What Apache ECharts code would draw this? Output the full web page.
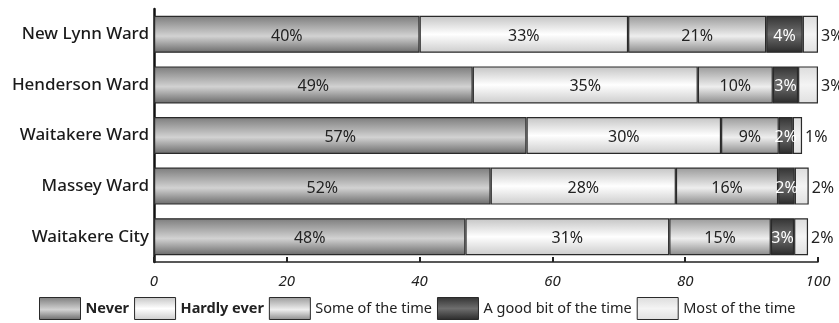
<!DOCTYPE html>
<html>
<head>
<meta charset="utf-8">
<script src="https://cdn.jsdelivr.net/npm/echarts@6/dist/echarts.min.js"></script>
<style>
  html, body { margin: 0; padding: 0; background: #fff; }
  #chart { width: 839px; height: 323px; }
</style>
</head>
<body>
<div id="chart"></div>
<script>
// categories, top to bottom
const wards = ['New Lynn Ward', 'Henderson Ward', 'Waitakere Ward', 'Massey Ward', 'Waitakere City'];
const answers = ['Never', 'Hardly ever', 'Some of the time', 'A good bit of the time', 'Most of the time'];

// segment widths as drawn
const never      = [40.0, 48.0, 56.1, 50.7, 46.9];
const hardlyEver = [31.4, 33.9, 29.3, 27.9, 30.7];
const someTime   = [20.8, 11.3, 8.7, 15.4, 15.3];
const goodBit    = [5.5, 3.8, 2.1, 2.5, 3.5];
const mostTime   = [2.3, 3.0, 1.4, 2.1, 2.1];

// printed labels
const neverLbl  = ['40%', '49%', '57%', '52%', '48%'];
const hardlyLbl = ['33%', '35%', '30%', '28%', '31%'];
const someLbl   = ['21%', '10%', '9%', '16%', '15%'];
const goodLbl   = ['4%', '3%', '2%', '2%', '3%'];
const mostLbl   = ['3%', '3%', '1%', '2%', '2%'];

const xTicks = [0, 20, 40, 60, 80, 100];

const FONT = 'Noto Sans';

function grad(stops) {
  return {
    type: 'linear', x: 0, y: 0, x2: 0, y2: 1,
    colorStops: stops.map(s => ({ offset: s[0], color: s[1] }))
  };
}

const fills = [
  grad([[0, '#7c7c7c'], [0.55, '#d2d2d2'], [1, '#6a6a6a']]),
  grad([[0, '#c4c4c4'], [0.5, '#ffffff'], [1, '#cccccc']]),
  grad([[0, '#9a9a9a'], [0.55, '#eeeeee'], [1, '#8a8a8a']]),
  grad([[0, '#333333'], [0.5, '#6e6e6e'], [1, '#2a2a2a']]),
  grad([[0, '#dcdcdc'], [0.5, '#f4f4f4'], [1, '#e0e0e0']])
];

const valueSets = [never, hardlyEver, someTime, goodBit, mostTime];
const labelSets = [neverLbl, hardlyLbl, someLbl, goodLbl, mostLbl];

const series = answers.map((name, i) => ({
  name,
  type: 'bar',
  stack: 'all',
  barWidth: 37,
  data: valueSets[i],
  itemStyle: { color: fills[i], borderColor: '#2a2a2a', borderWidth: 1.2 },
  label: {
    show: true,
    position: i === 4 ? 'right' : 'inside',
    distance: 3,
    offset: [0, 2],
    fontFamily: FONT,
    fontSize: 16,
    color: i === 3 ? '#ffffff' : '#222',
    formatter: p => labelSets[i][p.dataIndex]
  },
  emphasis: { disabled: true }
}));

const chart = echarts.init(document.getElementById('chart'));
chart.setOption({
  animation: false,
  grid: { left: 154, right: 21, top: 9, bottom: 61 },
  xAxis: {
    type: 'value',
    min: 0,
    max: 100,
    interval: 20,
    axisLine: { show: true, lineStyle: { color: '#222', width: 1.5 } },
    axisTick: { show: true, inside: true, length: 5, lineStyle: { color: '#222', width: 2 } },
    splitLine: { show: false },
    axisLabel: {
      margin: 12,
      fontFamily: FONT,
      fontSize: 15,
      fontStyle: 'italic',
      color: '#222',
      formatter: v => xTicks.includes(v) ? String(v) : ''
    }
  },
  yAxis: {
    type: 'category',
    data: wards,
    inverse: true,
    axisLine: { show: true, lineStyle: { color: '#111', width: 2.5 } },
    axisTick: { show: false },
    axisLabel: { margin: 5, fontFamily: FONT, fontSize: 17, fontWeight: 500, color: '#1a1a1a' }
  },
  legend: {
    bottom: -2,
    left: 34,
    icon: 'rect',
    itemWidth: 41,
    itemHeight: 22,
    itemGap: 5,
    data: answers,
    itemStyle: { borderColor: '#2a2a2a', borderWidth: 1 },
    textStyle: {
      fontFamily: FONT,
      fontSize: 14.5,
      color: '#222',
      rich: { b: { fontWeight: 'bold', fontFamily: FONT, fontSize: 14.5, color: '#222' } }
    },
    formatter: n => (n === 'Never' || n === 'Hardly ever') ? '{b|' + n + '}' : n
  },
  series
});
</script>
</body>
</html>
